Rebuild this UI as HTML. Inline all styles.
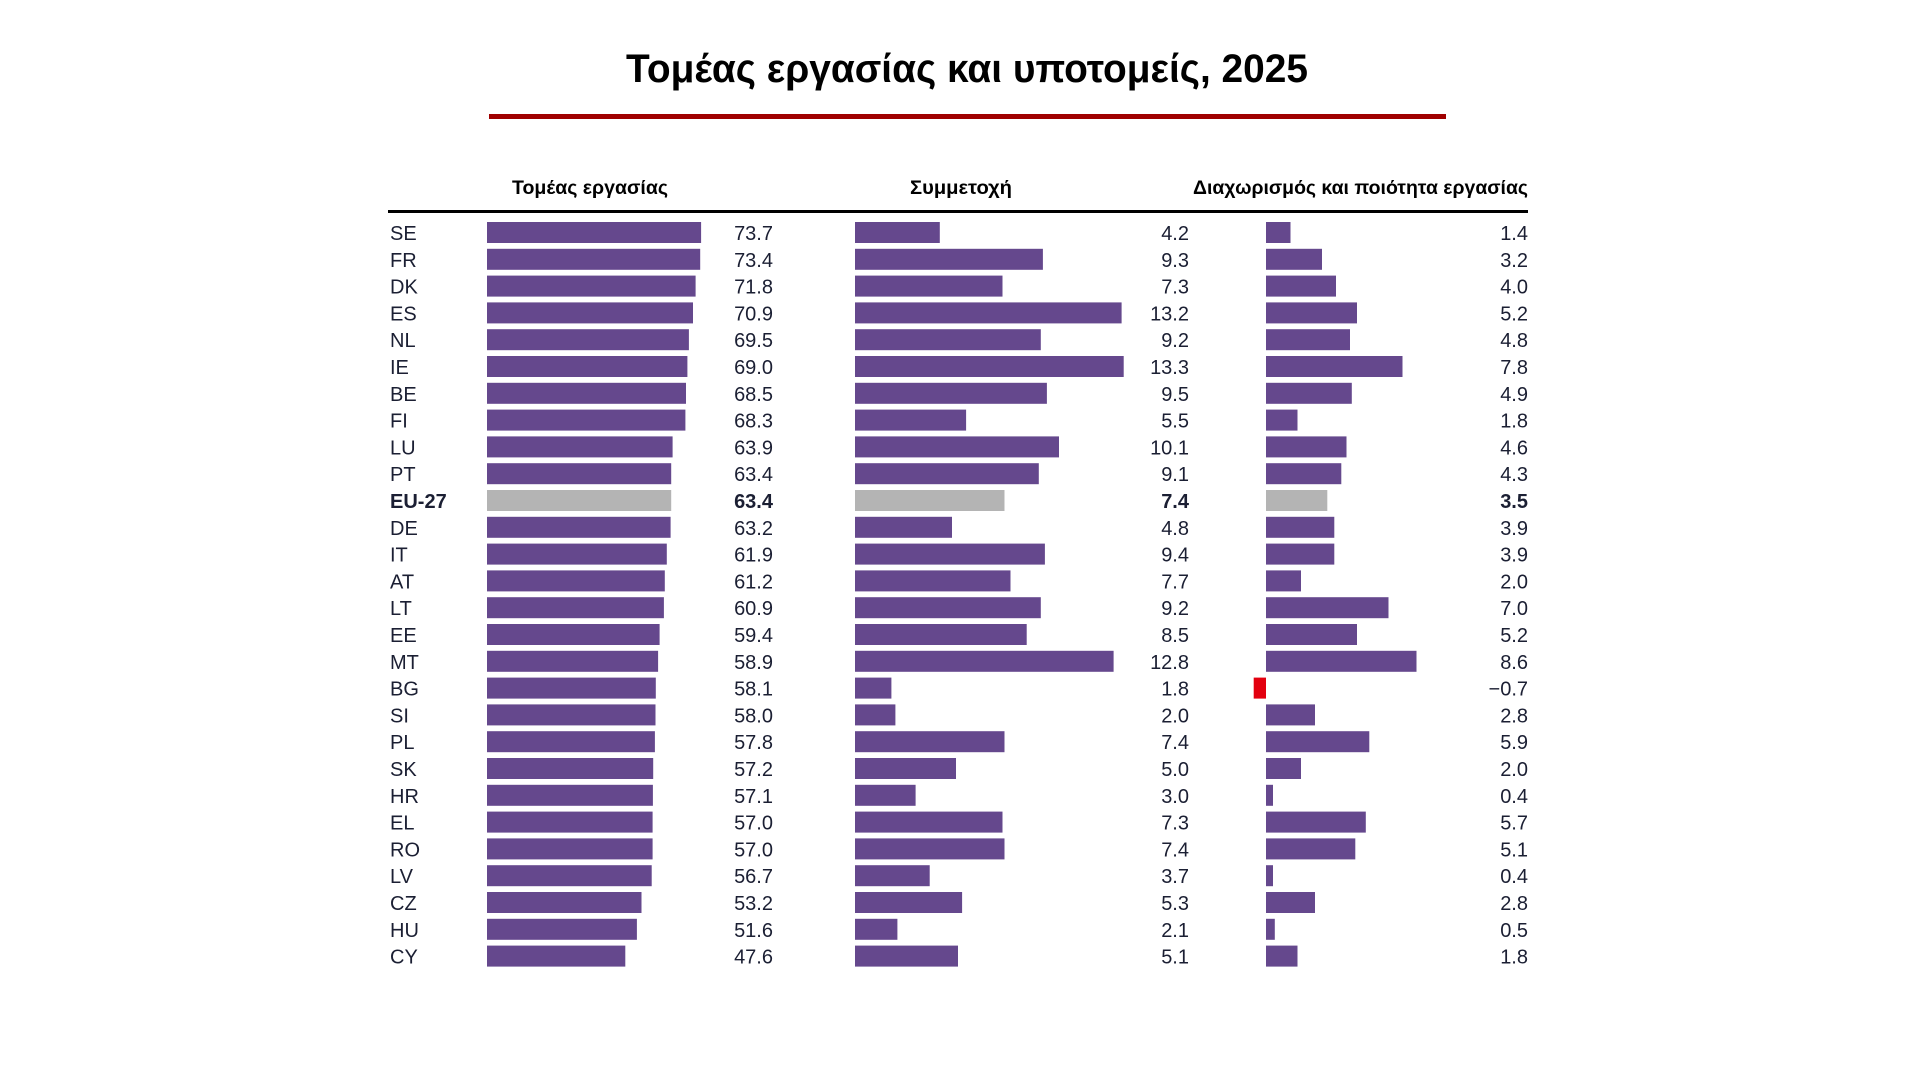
<!DOCTYPE html>
<html><head><meta charset="utf-8"><style>html,body{margin:0;padding:0;background:#fff;}svg{display:block}
.p{fill:#65488d}.g{fill:#b4b4b4}.r{fill:#e3000f}.t{font-size:20px;fill:#1b1f33}.e{text-anchor:end}.b{font-weight:bold}</style></head>
<body>
<svg width="1920" height="1080" viewBox="0 0 1920 1080" xmlns="http://www.w3.org/2000/svg" font-family="Liberation Sans, DejaVu Sans, sans-serif">
<rect width="1920" height="1080" fill="#fff"/>
<text x="967" y="82" font-size="40" font-weight="bold" text-anchor="middle" fill="#000" textLength="682" lengthAdjust="spacingAndGlyphs">Τομέας εργασίας και υποτομείς, 2025</text>
<rect x="489" y="114" width="957" height="5" fill="#a00000"/>
<text x="590" y="194" font-size="19" font-weight="bold" text-anchor="middle" fill="#000" textLength="156" lengthAdjust="spacingAndGlyphs">Τομέας  εργασίας</text>
<text x="961" y="194" font-size="19" font-weight="bold" text-anchor="middle" fill="#000" textLength="102" lengthAdjust="spacingAndGlyphs">Συμμετοχή</text>
<text x="1528" y="194" font-size="19" font-weight="bold" text-anchor="end" fill="#000" textLength="335" lengthAdjust="spacingAndGlyphs">Διαχωρισμός και ποιότητα εργασίας</text>
<rect x="388" y="210" width="1140" height="3" fill="#000"/>

<g transform="translate(0,222)"><text class="t" x="390" y="18">SE</text><rect class="p" x="487" y="0" width="214.1" height="21"/><text class="t e" x="773" y="18">73.7</text><rect class="p" x="855" y="0" width="84.8" height="21"/><text class="t e" x="1189" y="18">4.2</text><rect class="p" x="1266" y="0" width="24.5" height="21"/><text class="t e" x="1528" y="18">1.4</text></g>
<g transform="translate(0,248.8)"><text class="t" x="390" y="18">FR</text><rect class="p" x="487" y="0" width="213.2" height="21"/><text class="t e" x="773" y="18">73.4</text><rect class="p" x="855" y="0" width="187.9" height="21"/><text class="t e" x="1189" y="18">9.3</text><rect class="p" x="1266" y="0" width="56" height="21"/><text class="t e" x="1528" y="18">3.2</text></g>
<g transform="translate(0,275.6)"><text class="t" x="390" y="18">DK</text><rect class="p" x="487" y="0" width="208.6" height="21"/><text class="t e" x="773" y="18">71.8</text><rect class="p" x="855" y="0" width="147.5" height="21"/><text class="t e" x="1189" y="18">7.3</text><rect class="p" x="1266" y="0" width="70" height="21"/><text class="t e" x="1528" y="18">4.0</text></g>
<g transform="translate(0,302.4)"><text class="t" x="390" y="18">ES</text><rect class="p" x="487" y="0" width="206" height="21"/><text class="t e" x="773" y="18">70.9</text><rect class="p" x="855" y="0" width="266.6" height="21"/><text class="t e" x="1189" y="18">13.2</text><rect class="p" x="1266" y="0" width="91" height="21"/><text class="t e" x="1528" y="18">5.2</text></g>
<g transform="translate(0,329.2)"><text class="t" x="390" y="18">NL</text><rect class="p" x="487" y="0" width="201.9" height="21"/><text class="t e" x="773" y="18">69.5</text><rect class="p" x="855" y="0" width="185.8" height="21"/><text class="t e" x="1189" y="18">9.2</text><rect class="p" x="1266" y="0" width="84" height="21"/><text class="t e" x="1528" y="18">4.8</text></g>
<g transform="translate(0,356)"><text class="t" x="390" y="18">IE</text><rect class="p" x="487" y="0" width="200.4" height="21"/><text class="t e" x="773" y="18">69.0</text><rect class="p" x="855" y="0" width="268.7" height="21"/><text class="t e" x="1189" y="18">13.3</text><rect class="p" x="1266" y="0" width="136.5" height="21"/><text class="t e" x="1528" y="18">7.8</text></g>
<g transform="translate(0,382.8)"><text class="t" x="390" y="18">BE</text><rect class="p" x="487" y="0" width="199" height="21"/><text class="t e" x="773" y="18">68.5</text><rect class="p" x="855" y="0" width="191.9" height="21"/><text class="t e" x="1189" y="18">9.5</text><rect class="p" x="1266" y="0" width="85.8" height="21"/><text class="t e" x="1528" y="18">4.9</text></g>
<g transform="translate(0,409.6)"><text class="t" x="390" y="18">FI</text><rect class="p" x="487" y="0" width="198.4" height="21"/><text class="t e" x="773" y="18">68.3</text><rect class="p" x="855" y="0" width="111.1" height="21"/><text class="t e" x="1189" y="18">5.5</text><rect class="p" x="1266" y="0" width="31.5" height="21"/><text class="t e" x="1528" y="18">1.8</text></g>
<g transform="translate(0,436.4)"><text class="t" x="390" y="18">LU</text><rect class="p" x="487" y="0" width="185.6" height="21"/><text class="t e" x="773" y="18">63.9</text><rect class="p" x="855" y="0" width="204" height="21"/><text class="t e" x="1189" y="18">10.1</text><rect class="p" x="1266" y="0" width="80.5" height="21"/><text class="t e" x="1528" y="18">4.6</text></g>
<g transform="translate(0,463.2)"><text class="t" x="390" y="18">PT</text><rect class="p" x="487" y="0" width="184.2" height="21"/><text class="t e" x="773" y="18">63.4</text><rect class="p" x="855" y="0" width="183.8" height="21"/><text class="t e" x="1189" y="18">9.1</text><rect class="p" x="1266" y="0" width="75.3" height="21"/><text class="t e" x="1528" y="18">4.3</text></g>
<g transform="translate(0,490)"><text class="t b" x="390" y="18">EU-27</text><rect class="g" x="487" y="0" width="184.2" height="21"/><text class="t e b" x="773" y="18">63.4</text><rect class="g" x="855" y="0" width="149.5" height="21"/><text class="t e b" x="1189" y="18">7.4</text><rect class="g" x="1266" y="0" width="61.3" height="21"/><text class="t e b" x="1528" y="18">3.5</text></g>
<g transform="translate(0,516.8)"><text class="t" x="390" y="18">DE</text><rect class="p" x="487" y="0" width="183.6" height="21"/><text class="t e" x="773" y="18">63.2</text><rect class="p" x="855" y="0" width="97" height="21"/><text class="t e" x="1189" y="18">4.8</text><rect class="p" x="1266" y="0" width="68.3" height="21"/><text class="t e" x="1528" y="18">3.9</text></g>
<g transform="translate(0,543.6)"><text class="t" x="390" y="18">IT</text><rect class="p" x="487" y="0" width="179.8" height="21"/><text class="t e" x="773" y="18">61.9</text><rect class="p" x="855" y="0" width="189.9" height="21"/><text class="t e" x="1189" y="18">9.4</text><rect class="p" x="1266" y="0" width="68.3" height="21"/><text class="t e" x="1528" y="18">3.9</text></g>
<g transform="translate(0,570.4)"><text class="t" x="390" y="18">AT</text><rect class="p" x="487" y="0" width="177.8" height="21"/><text class="t e" x="773" y="18">61.2</text><rect class="p" x="855" y="0" width="155.5" height="21"/><text class="t e" x="1189" y="18">7.7</text><rect class="p" x="1266" y="0" width="35" height="21"/><text class="t e" x="1528" y="18">2.0</text></g>
<g transform="translate(0,597.2)"><text class="t" x="390" y="18">LT</text><rect class="p" x="487" y="0" width="176.9" height="21"/><text class="t e" x="773" y="18">60.9</text><rect class="p" x="855" y="0" width="185.8" height="21"/><text class="t e" x="1189" y="18">9.2</text><rect class="p" x="1266" y="0" width="122.5" height="21"/><text class="t e" x="1528" y="18">7.0</text></g>
<g transform="translate(0,624)"><text class="t" x="390" y="18">EE</text><rect class="p" x="487" y="0" width="172.6" height="21"/><text class="t e" x="773" y="18">59.4</text><rect class="p" x="855" y="0" width="171.7" height="21"/><text class="t e" x="1189" y="18">8.5</text><rect class="p" x="1266" y="0" width="91" height="21"/><text class="t e" x="1528" y="18">5.2</text></g>
<g transform="translate(0,650.8)"><text class="t" x="390" y="18">MT</text><rect class="p" x="487" y="0" width="171.1" height="21"/><text class="t e" x="773" y="18">58.9</text><rect class="p" x="855" y="0" width="258.6" height="21"/><text class="t e" x="1189" y="18">12.8</text><rect class="p" x="1266" y="0" width="150.5" height="21"/><text class="t e" x="1528" y="18">8.6</text></g>
<g transform="translate(0,677.6)"><text class="t" x="390" y="18">BG</text><rect class="p" x="487" y="0" width="168.8" height="21"/><text class="t e" x="773" y="18">58.1</text><rect class="p" x="855" y="0" width="36.4" height="21"/><text class="t e" x="1189" y="18">1.8</text><rect class="r" x="1253.7" y="0" width="12.3" height="21"/><text class="t e" x="1528" y="18">−0.7</text></g>
<g transform="translate(0,704.4)"><text class="t" x="390" y="18">SI</text><rect class="p" x="487" y="0" width="168.5" height="21"/><text class="t e" x="773" y="18">58.0</text><rect class="p" x="855" y="0" width="40.4" height="21"/><text class="t e" x="1189" y="18">2.0</text><rect class="p" x="1266" y="0" width="49" height="21"/><text class="t e" x="1528" y="18">2.8</text></g>
<g transform="translate(0,731.2)"><text class="t" x="390" y="18">PL</text><rect class="p" x="487" y="0" width="167.9" height="21"/><text class="t e" x="773" y="18">57.8</text><rect class="p" x="855" y="0" width="149.5" height="21"/><text class="t e" x="1189" y="18">7.4</text><rect class="p" x="1266" y="0" width="103.3" height="21"/><text class="t e" x="1528" y="18">5.9</text></g>
<g transform="translate(0,758)"><text class="t" x="390" y="18">SK</text><rect class="p" x="487" y="0" width="166.2" height="21"/><text class="t e" x="773" y="18">57.2</text><rect class="p" x="855" y="0" width="101" height="21"/><text class="t e" x="1189" y="18">5.0</text><rect class="p" x="1266" y="0" width="35" height="21"/><text class="t e" x="1528" y="18">2.0</text></g>
<g transform="translate(0,784.8)"><text class="t" x="390" y="18">HR</text><rect class="p" x="487" y="0" width="165.9" height="21"/><text class="t e" x="773" y="18">57.1</text><rect class="p" x="855" y="0" width="60.6" height="21"/><text class="t e" x="1189" y="18">3.0</text><rect class="p" x="1266" y="0" width="7" height="21"/><text class="t e" x="1528" y="18">0.4</text></g>
<g transform="translate(0,811.6)"><text class="t" x="390" y="18">EL</text><rect class="p" x="487" y="0" width="165.6" height="21"/><text class="t e" x="773" y="18">57.0</text><rect class="p" x="855" y="0" width="147.5" height="21"/><text class="t e" x="1189" y="18">7.3</text><rect class="p" x="1266" y="0" width="99.8" height="21"/><text class="t e" x="1528" y="18">5.7</text></g>
<g transform="translate(0,838.4)"><text class="t" x="390" y="18">RO</text><rect class="p" x="487" y="0" width="165.6" height="21"/><text class="t e" x="773" y="18">57.0</text><rect class="p" x="855" y="0" width="149.5" height="21"/><text class="t e" x="1189" y="18">7.4</text><rect class="p" x="1266" y="0" width="89.3" height="21"/><text class="t e" x="1528" y="18">5.1</text></g>
<g transform="translate(0,865.2)"><text class="t" x="390" y="18">LV</text><rect class="p" x="487" y="0" width="164.7" height="21"/><text class="t e" x="773" y="18">56.7</text><rect class="p" x="855" y="0" width="74.7" height="21"/><text class="t e" x="1189" y="18">3.7</text><rect class="p" x="1266" y="0" width="7" height="21"/><text class="t e" x="1528" y="18">0.4</text></g>
<g transform="translate(0,892)"><text class="t" x="390" y="18">CZ</text><rect class="p" x="487" y="0" width="154.5" height="21"/><text class="t e" x="773" y="18">53.2</text><rect class="p" x="855" y="0" width="107.1" height="21"/><text class="t e" x="1189" y="18">5.3</text><rect class="p" x="1266" y="0" width="49" height="21"/><text class="t e" x="1528" y="18">2.8</text></g>
<g transform="translate(0,918.8)"><text class="t" x="390" y="18">HU</text><rect class="p" x="487" y="0" width="149.9" height="21"/><text class="t e" x="773" y="18">51.6</text><rect class="p" x="855" y="0" width="42.4" height="21"/><text class="t e" x="1189" y="18">2.1</text><rect class="p" x="1266" y="0" width="8.8" height="21"/><text class="t e" x="1528" y="18">0.5</text></g>
<g transform="translate(0,945.6)"><text class="t" x="390" y="18">CY</text><rect class="p" x="487" y="0" width="138.3" height="21"/><text class="t e" x="773" y="18">47.6</text><rect class="p" x="855" y="0" width="103" height="21"/><text class="t e" x="1189" y="18">5.1</text><rect class="p" x="1266" y="0" width="31.5" height="21"/><text class="t e" x="1528" y="18">1.8</text></g>
</svg>
</body></html>
